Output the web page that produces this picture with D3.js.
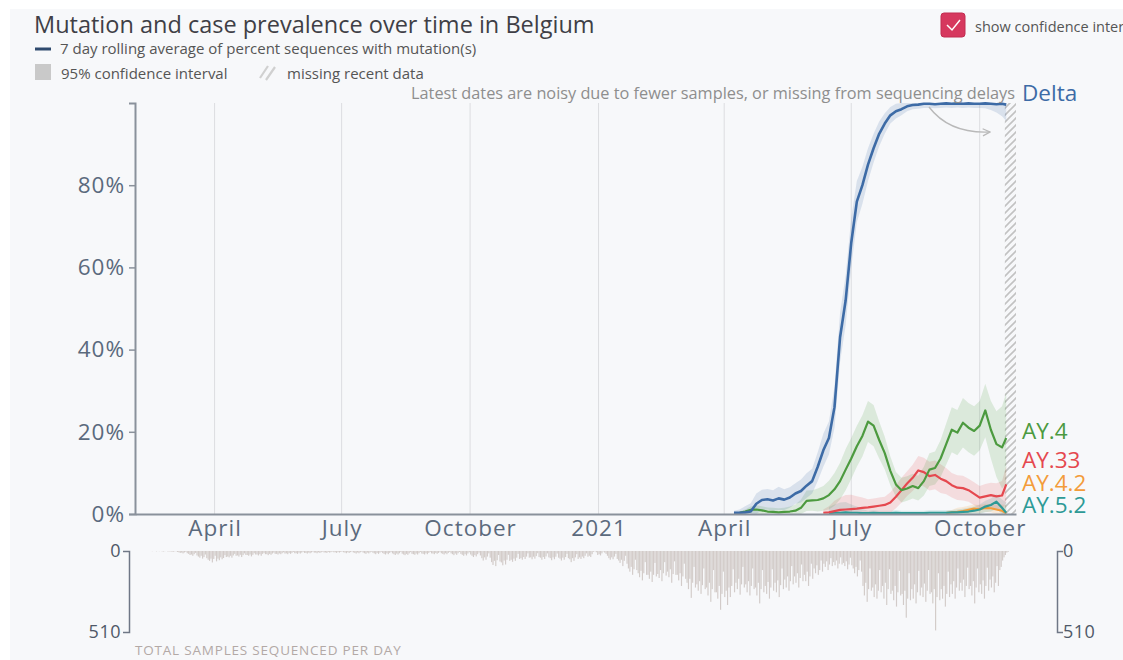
<!DOCTYPE html>
<html>
<head>
<meta charset="utf-8">
<script src="https://cdn.jsdelivr.net/npm/d3@7"></script>
<style>
  html, body { margin: 0; padding: 0; background: #ffffff; }
  svg { display: block; font-family: "Open Sans", Lato, sans-serif; }
</style>
</head>
<body>
<svg id="chart" width="1123" height="660"></svg>
<script>
// ---- Data -----------------------------------------------------------------
// Sample dates for the prevalence curves (4-day spacing).
const dates = [
  "2021-04-04","2021-04-08","2021-04-12","2021-04-16","2021-04-20","2021-04-24","2021-04-28","2021-05-02",
  "2021-05-06","2021-05-10","2021-05-14","2021-05-18","2021-05-22","2021-05-26","2021-05-30","2021-06-03",
  "2021-06-07","2021-06-11","2021-06-15","2021-06-19","2021-06-23","2021-06-27","2021-07-01",
  "2021-07-05","2021-07-09","2021-07-13","2021-07-17","2021-07-21","2021-07-25","2021-07-29","2021-08-02",
  "2021-08-06","2021-08-10","2021-08-14","2021-08-18","2021-08-22","2021-08-26","2021-08-30","2021-09-03",
  "2021-09-07","2021-09-11","2021-09-15","2021-09-19","2021-09-23","2021-09-27","2021-10-01",
  "2021-10-05","2021-10-09","2021-10-13","2021-10-17","2021-10-20"
];

// 7-day rolling percent of sequences per lineage
const delta = [null,0.3,0.3,0.4,0.6,2.5,3.4,3.6,3.3,3.8,3.5,4.0,5.0,5.6,6.9,8.0,11.5,15.5,18.5,26,43,52,66,76,80,85,89,92.5,95,97,98,98.5,99.2,99.5,99.6,99.8,99.8,99.7,99.8,99.9,99.8,99.9,99.8,99.9,99.8,99.8,99.9,99.8,99.7,99.8,99.6];
const ay4   = [null,null,0.3,0.6,1.0,1.1,0.9,0.6,0.5,0.4,0.5,0.6,0.8,1.5,3.2,3.3,3.4,3.8,4.6,6.0,8.0,10.8,13.5,16.5,19,22.5,21.5,18,14.8,10.5,7.2,5.8,6.2,6.8,6.3,8.0,10.8,11.2,13.5,17.0,20.5,19.8,22.2,21,20.2,21.5,25.2,20.5,17.0,16.2,18.5];
const ay33  = [null,null,null,null,null,null,null,null,null,null,null,null,null,null,null,null,null,0.3,0.4,0.7,1.0,1.1,1.2,1.3,1.5,1.6,1.8,2.0,2.2,2.8,4.2,5.8,7.4,8.8,10.6,10.2,9.2,9.5,8.6,8.0,7.0,6.4,6.3,5.8,4.9,4.0,4.3,4.6,4.3,4.5,7.2];
const ay42  = [null,null,null,null,null,null,null,null,null,null,null,null,null,null,null,null,null,null,null,null,null,null,null,null,null,null,null,null,null,null,null,null,null,null,null,null,null,null,null,0.2,0.4,0.5,0.7,1.0,1.3,1.2,1.5,1.4,1.1,0.8,0.2];
const ay52  = [null,null,null,null,null,null,null,null,null,null,null,null,null,null,null,null,null,null,0.2,0.3,0.3,0.4,0.3,0.3,0.2,0.2,0.3,0.2,0.2,0.2,0.3,0.2,0.2,0.2,0.2,0.2,0.3,0.3,0.3,0.3,0.4,0.4,0.5,0.6,0.8,1.1,1.8,2.2,3.0,1.5,0.3];

// 95% confidence interval half-widths (percentage points)
const deltaCI = [null,0.5,0.8,1.5,2,2.5,2.5,2.5,2.5,2.8,2.5,2.5,2.5,2.8,3,3,3.5,4,4,5,6,6,6,5,4.5,4,3.5,3,2.5,2,1.8,1.5,1.2,1,1,1,1,1,1,1,1,1,1,1,1,1,1.2,1.5,2,3,4];
const ay4CI   = [null,null,0.3,0.5,0.8,1,1,1,1,1,1,1.2,1.5,2,2.5,2.5,2.8,3,3.5,4,4.5,5,5,5,5,5,5,4.5,4,3.5,3,3,3,3,3,3.5,4,4,4.5,5,5.5,5.5,6,6,6,6,6.5,7,8,10,11];
const ay33CI  = [null,null,null,null,null,null,null,null,null,null,null,null,null,null,null,null,null,0.8,1.5,2.5,3,3.5,3.5,3,2.5,2,2,2,2,2.5,2.8,3,3,3.2,3.5,3.5,3.5,3.5,3.5,3.2,3,3,3,2.8,2.8,2.8,3,3,3.2,3.5,4.5];
const ay42CI  = [null,null,null,null,null,null,null,null,null,null,null,null,null,null,null,null,null,null,null,null,null,null,null,null,null,null,null,null,null,null,null,null,null,null,null,null,null,null,null,0.5,0.6,1,1,1,1,1,1,1,1.2,1.5,2];
const ay52CI  = [null,null,null,null,null,null,null,null,null,null,null,null,null,null,null,null,null,null,1.5,2,2.5,2.5,2,1.5,1,0.6,0.6,0.6,0.6,0.6,0.6,0.6,0.6,0.6,0.6,0.6,0.6,0.6,0.6,0.6,0.6,0.7,0.8,0.9,1,1.2,1.4,1.6,1.8,2,2.5];

const lineages = [
  { name: "AY.4.2", values: ay42,  ci: ay42CI,  color: "#f39c3a", labelY: 485 },
  { name: "AY.5.2", values: ay52,  ci: ay52CI,  color: "#2e9a96", labelY: 507 },
  { name: "AY.33",  values: ay33,  ci: ay33CI,  color: "#e5484f", labelY: 462 },
  { name: "AY.4",   values: ay4,   ci: ay4CI,   color: "#4c9a3f", labelY: 433 },
  { name: "Delta",  values: delta, ci: deltaCI, color: "#3d6ba6", labelY: 95 }
];

// Total sequenced samples per day (one row per week)
const histStart = "2020-02-07";
const samplesPerDay = [
  0,0,0,0,0,0,0,
  0,0,1,0,0,2,0,
  1,0,2,3,1,0,2,
  3,2,4,5,2,1,6,
  8,12,10,15,9,5,14,
  18,25,22,30,20,12,28,
  35,42,30,48,38,22,45,
  55,62,48,72,50,30,65,
  48,58,40,52,44,26,38,
  35,40,30,42,28,18,30,
  28,35,24,38,26,15,25,
  25,30,22,34,24,14,22,
  22,28,20,30,18,12,20,
  20,26,18,24,16,10,18,
  18,22,15,20,14,8,16,
  15,20,12,18,12,6,14,
  14,18,10,16,10,5,12,
  12,16,10,14,9,4,10,
  10,14,8,12,8,4,9,
  9,12,6,10,7,3,8,
  8,12,6,10,6,3,8,
  10,14,8,12,7,3,9,
  12,16,9,14,8,4,10,
  14,18,10,15,9,4,11,
  15,20,12,18,10,5,13,
  18,22,14,20,12,6,15,
  20,25,16,22,14,6,17,
  22,26,18,24,15,7,18,
  20,24,16,22,14,6,16,
  18,22,14,20,12,6,15,
  16,20,12,18,12,5,14,
  18,22,14,20,12,6,15,
  20,26,16,24,14,6,18,
  24,30,20,28,16,8,22,
  30,38,26,34,20,10,28,
  45,60,40,55,35,15,42,
  70,88,62,95,58,25,66,
  72,90,60,85,55,24,62,
  55,68,48,62,42,18,50,
  45,55,38,50,35,15,42,
  40,52,36,48,32,14,38,
  42,55,38,50,34,15,40,
  45,58,40,52,36,16,42,
  48,60,42,55,38,18,45,
  52,70,45,62,40,20,50,
  40,50,35,45,30,15,36,
  30,38,20,5,2,8,25,
  20,28,15,3,10,18,30,
  45,55,40,52,35,18,50,
  60,75,55,95,62,30,80,
  110,130,100,150,115,55,120,
  140,165,125,185,140,70,150,
  150,175,130,195,150,75,160,
  145,170,120,190,140,70,155,
  130,165,115,200,145,65,150,
  150,185,140,220,160,80,175,
  200,240,175,295,200,100,230,
  210,250,190,270,215,110,240,
  230,280,200,320,240,120,260,
  260,300,220,370,270,130,290,
  250,340,230,290,220,115,260,
  200,240,175,275,210,100,230,
  210,260,190,280,220,110,240,
  230,280,200,330,240,120,260,
  220,270,195,300,230,115,250,
  200,260,185,290,215,110,240,
  180,230,160,250,190,95,210,
  160,200,140,230,170,85,190,
  150,190,130,220,160,80,175,
  110,140,90,150,120,60,130,
  80,100,65,120,85,45,95,
  70,90,60,110,80,40,85,
  75,95,65,115,85,42,90,
  110,140,100,160,120,60,130,
  220,280,200,320,240,110,250,
  230,290,210,300,250,120,260,
  220,300,200,340,240,115,270,
  250,310,220,350,260,125,280,
  270,340,250,420,300,140,310,
  240,300,210,330,260,125,280,
  230,290,205,320,250,120,270,
  260,330,240,500,290,140,310,
  240,300,220,350,270,130,290,
  210,270,190,300,230,110,250,
  200,250,180,290,220,105,240,
  220,280,190,330,230,110,260,
  210,270,185,300,220,105,250,
  180,230,160,260,200,95,220,
  120,100,60,40,25,10,5
];

const monthTicks  = ["2020-04-01","2020-07-01","2020-10-01","2021-01-01","2021-04-01","2021-07-01","2021-10-01"];
const monthLabels = ["April","July","October","2021","April","July","October"];
const pctTicks = [0, 20, 40, 60, 80];
const histTicks = [0, 510];
const domainDates = ["2020-02-04", "2021-10-27"];
const missingFrom = "2021-10-19";

// ---- Setup ----------------------------------------------------------------
const parse = d3.utcParse("%Y-%m-%d");
const svg = d3.select("#chart");

const x = d3.scaleUtc().domain(domainDates.map(parse)).range([135, 1016]);
const y = d3.scaleLinear().domain([0, 100]).range([514, 103]);
const hy = d3.scaleLinear().domain([0, 510]).range([551, 632]);

const axisColor = "#8a919b";
const tickText = "#5b6a7d";

// page background
svg.append("rect").attr("x", 10).attr("y", 9).attr("width", 1113).attr("height", 651).attr("fill", "#f7f8fa");

const defs = svg.append("defs");
const hatch = defs.append("pattern")
  .attr("id", "hatch").attr("patternUnits", "userSpaceOnUse")
  .attr("width", 7).attr("height", 7);
hatch.append("path")
  .attr("d", "M0,7 L7,0 M-2,2 L2,-2 M5,9 L9,5")
  .attr("stroke", "#c2c2c2").attr("stroke-width", 1.6);

defs.append("marker")
  .attr("id", "arrow").attr("viewBox", "0 0 10 10")
  .attr("refX", 9).attr("refY", 5)
  .attr("markerWidth", 9).attr("markerHeight", 9)
  .attr("markerUnits", "userSpaceOnUse")
  .attr("orient", "auto")
  .append("path").attr("d", "M1,1 L9,5 L1,9")
  .attr("fill", "none").attr("stroke", "#b9b9b9").attr("stroke-width", 1.4);

// ---- Title & legend --------------------------------------------------------
svg.append("text").attr("x", 34).attr("y", 33)
  .attr("font-size", 23.5).attr("fill", "#3f3f46")
  .text("Mutation and case prevalence over time in Belgium");

svg.append("line").attr("x1", 35).attr("x2", 51).attr("y1", 49).attr("y2", 49)
  .attr("stroke", "#2f4a6e").attr("stroke-width", 3);
svg.append("text").attr("x", 60).attr("y", 54).attr("font-size", 15).attr("fill", "#555")
  .text("7 day rolling average of percent sequences with mutation(s)");

svg.append("rect").attr("x", 35).attr("y", 64).attr("width", 16).attr("height", 16).attr("fill", "#c9c9c9");
svg.append("text").attr("x", 61).attr("y", 79).attr("font-size", 15).attr("fill", "#555")
  .text("95% confidence interval");

svg.append("path").attr("d", "M260,78 L268,66 M266,80 L275,67")
  .attr("stroke", "#d0d0d0").attr("stroke-width", 2.2);
svg.append("text").attr("x", 287).attr("y", 79).attr("font-size", 15).attr("fill", "#555")
  .text("missing recent data");

// checkbox
svg.append("rect").attr("x", 941).attr("y", 13).attr("width", 24).attr("height", 24).attr("rx", 3)
  .attr("fill", "#d6385e").attr("stroke", "#c22c50");
svg.append("path").attr("d", "M947,25 L952,30 L960,20")
  .attr("fill", "none").attr("stroke", "#fff").attr("stroke-width", 1.5);
svg.append("text").attr("x", 975).attr("y", 32).attr("font-size", 14.5).attr("fill", "#555")
  .text("show confidence intervals");

// ---- Main chart ------------------------------------------------------------
const g = svg.append("g");

// vertical gridlines
g.selectAll("line.grid").data(monthTicks).join("line")
  .attr("class", "grid")
  .attr("x1", d => x(parse(d))).attr("x2", d => x(parse(d)))
  .attr("y1", y(100)).attr("y2", y(0))
  .attr("stroke", "#dcdde0").attr("stroke-width", 1);

// missing recent data
g.append("rect")
  .attr("x", x(parse(missingFrom))).attr("y", y(100))
  .attr("width", x.range()[1] - x(parse(missingFrom))).attr("height", y(0) - y(100))
  .attr("fill", "url(#hatch)");

const pts = lin => dates.map((d, i) => ({ date: parse(d), v: lin.values[i], ci: lin.ci[i] }));

const area = d3.area()
  .defined(d => d.v != null)
  .x(d => x(d.date))
  .y0(d => y(Math.max(0, d.v - d.ci)))
  .y1(d => y(Math.min(100, d.v + d.ci)));

const line = d3.line()
  .defined(d => d.v != null)
  .x(d => x(d.date))
  .y(d => y(d.v));

g.selectAll("path.band").data(lineages).join("path")
  .attr("class", "band")
  .attr("d", d => area(pts(d)))
  .attr("fill", d => d.color).attr("fill-opacity", 0.16);

g.selectAll("path.trend").data(lineages).join("path")
  .attr("class", "trend")
  .attr("d", d => line(pts(d)))
  .attr("fill", "none").attr("stroke", d => d.color)
  .attr("stroke-width", d => d.name === "Delta" ? 2.6 : 2.2)
  .attr("stroke-linejoin", "round");

// lineage labels
g.selectAll("text.lab").data(lineages).join("text")
  .attr("class", "lab")
  .attr("x", 1022).attr("y", d => d.labelY)
  .attr("dominant-baseline", "middle")
  .attr("font-size", 22.5).attr("fill", d => d.color)
  .text(d => d.name);

// note about recent data
svg.append("text").attr("x", 1015).attr("y", 99).attr("text-anchor", "end")
  .attr("font-size", 16.3).attr("fill", "#8e8e8e")
  .text("Latest dates are noisy due to fewer samples, or missing from sequencing delays");
svg.append("path").attr("d", "M929,107 C945,128 968,133 990,132")
  .attr("fill", "none").attr("stroke", "#b9b9b9").attr("stroke-width", 1.4)
  .attr("marker-end", "url(#arrow)");

// y axis
const yAxis = g.append("g").attr("transform", "translate(135,0)")
  .call(d3.axisLeft(y).tickValues(pctTicks).tickFormat(d => d + "%").tickSizeOuter(0).tickSize(6));
yAxis.select(".domain").attr("stroke", axisColor).attr("stroke-width", 2);
yAxis.selectAll(".tick line").attr("stroke", axisColor).attr("stroke-width", 1.5);
yAxis.selectAll(".tick text").attr("font-size", 22.5).attr("fill", tickText)
  .attr("font-family", "'Open Sans', sans-serif").attr("letter-spacing", 1).attr("x", -10);

// x axis
const xAxis = g.append("g").attr("transform", "translate(0,514)")
  .call(d3.axisBottom(x).tickValues(monthTicks.map(parse))
    .tickFormat((d, i) => monthLabels[i]).tickSize(0).tickSizeOuter(0));
xAxis.select(".domain").attr("stroke", axisColor).attr("stroke-width", 2);
xAxis.selectAll(".tick text").attr("font-size", 22.5).attr("fill", tickText)
  .attr("font-family", "'Open Sans', sans-serif").attr("letter-spacing", 1).attr("dy", "0.85em");

// ---- Samples histogram -----------------------------------------------------
const start = parse(histStart);
const bars = samplesPerDay.map((v, i) => ({ date: d3.utcDay.offset(start, i), v }));

svg.append("g").selectAll("rect").data(bars.filter(d => d.v > 0)).join("rect")
  .attr("x", d => x(d.date))
  .attr("y", hy(0))
  .attr("width", 1.15)
  .attr("height", d => hy(d.v) - hy(0))
  .attr("fill", "#cbc3c0").attr("fill-opacity", 0.85);

const hl = svg.append("g").attr("transform", "translate(129,0)")
  .call(d3.axisLeft(hy).tickValues(histTicks).tickSize(0).tickSizeOuter(6).tickPadding(8));
const hr = svg.append("g").attr("transform", "translate(1057,0)")
  .call(d3.axisRight(hy).tickValues(histTicks).tickSize(0).tickSizeOuter(6).tickPadding(6));
[hl, hr].forEach(a => {
  a.select(".domain").attr("stroke", "#6f7786").attr("stroke-width", 1.5);
  a.selectAll(".tick text").attr("font-size", 18).attr("fill", "#4f5868")
    .attr("font-family", "'Open Sans', sans-serif").attr("letter-spacing", 0.5);
});

svg.append("text").attr("x", 135).attr("y", 655)
  .attr("font-size", 13.5).attr("fill", "#b3a9a6").attr("letter-spacing", 0.8)
  .text("TOTAL SAMPLES SEQUENCED PER DAY");
</script>
</body>
</html>
